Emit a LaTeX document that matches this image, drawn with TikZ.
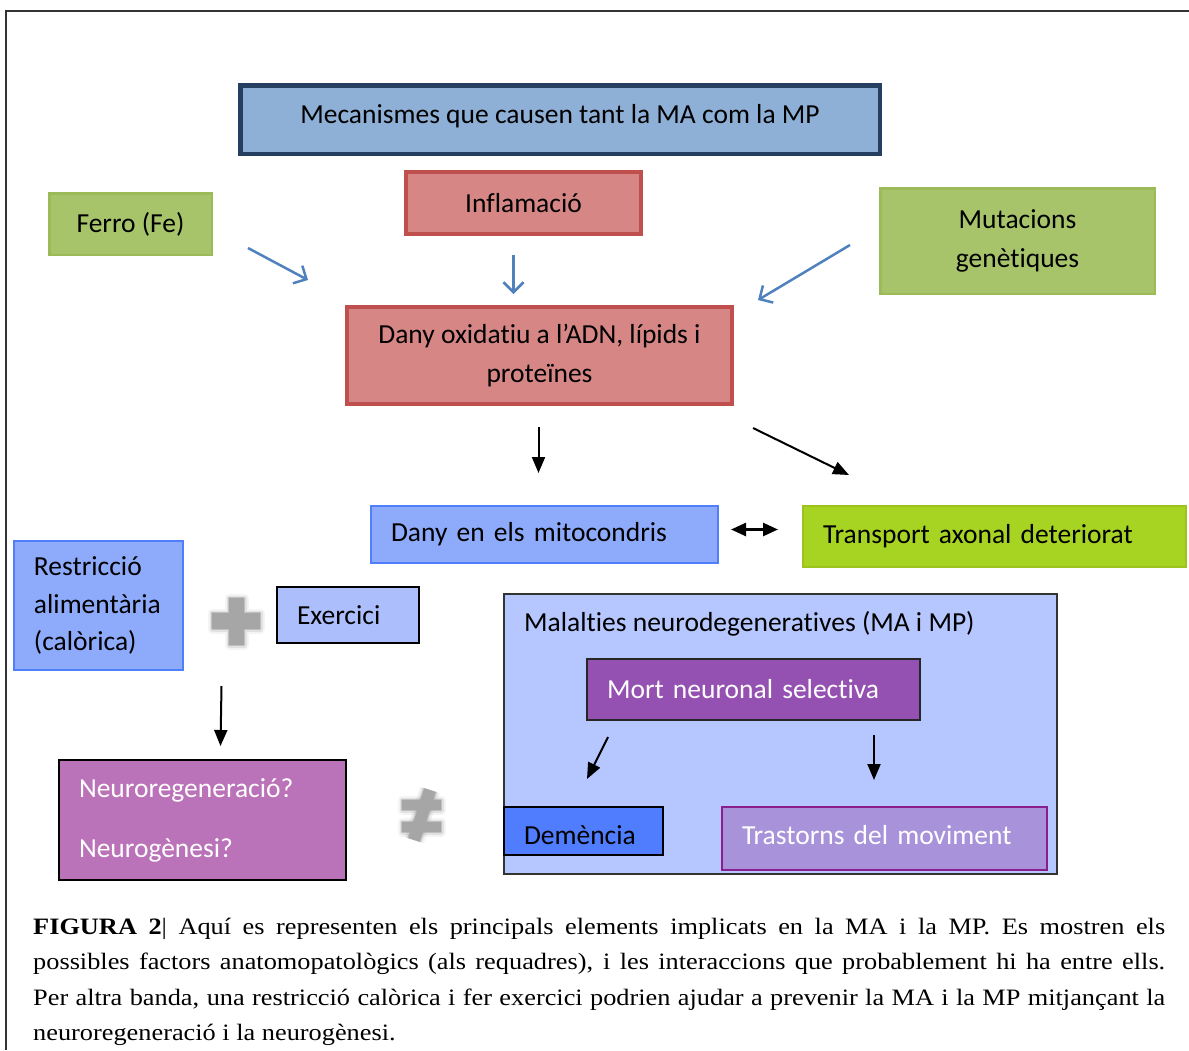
\documentclass[tikz,border=0pt]{standalone}
\usepackage{fontspec}
\setmainfont[Ligatures={NoCommon}]{Carlito}
\newfontfamily\captionfont[FakeStretch=1.12]{Liberation Serif}
\usetikzlibrary{arrows.meta}

\definecolor{mecfill}{HTML}{8EB0D7}
\definecolor{mecline}{HTML}{243F60}
\definecolor{redfill}{HTML}{D68785}
\definecolor{redline}{HTML}{C0504D}
\definecolor{greenfill}{HTML}{A7C46B}
\definecolor{greenline}{HTML}{9BBB59}
\definecolor{mitofill}{HTML}{8EAAFB}
\definecolor{mitoline}{HTML}{4F7FFA}
\definecolor{axonfill}{HTML}{A7D322}
\definecolor{axonline}{HTML}{9CC31E}
\definecolor{exerfill}{HTML}{ACBFFC}
\definecolor{neurofill}{HTML}{BA72B8}
\definecolor{malfill}{HTML}{B5C7FE}
\definecolor{mortfill}{HTML}{9551B2}
\definecolor{demfill}{HTML}{4F7DFE}
\definecolor{trasfill}{HTML}{A893DA}
\definecolor{trasline}{HTML}{8B1E8E}
\definecolor{arrowblue}{HTML}{4F81BD}
\definecolor{symgray}{HTML}{A6A6A6}

\begin{document}
\begin{tikzpicture}[
        x=1pt, y=-1pt,
        base/.style={rectangle, inner sep=0pt, font=\fontsize{27.5}{39}\selectfont},
        mecbox/.style={base, draw=mecline, line width=4.5pt, fill=mecfill, align=center},
        redbox/.style={base, draw=redline, line width=4pt, fill=redfill, align=center},
        greenbox/.style={base, draw=greenline, line width=2.5pt, fill=greenfill, align=center},
        leftbox/.style={base, line width=2pt, align=left, inner xsep=20pt},
        bluearrow/.style={-{Straight Barb[length=10pt,width=20pt]}, draw=arrowblue, line width=2.5pt},
        arrow/.style={-{Triangle[length=16pt,width=13pt]}, line width=2pt},
        doublearrow/.style={{Triangle[length=15pt,width=13pt]}-{Triangle[length=15pt,width=13pt]}, line width=2.5pt}
    ]
    \useasboundingbox (0,0) rectangle (1189,1050);
    \draw[line width=1.5pt, black!80] (6,1050) -- (6,11) -- (1189,11);

    % top: mechanisms and causes
    \node (mec) [mecbox, minimum width=639.5pt, minimum height=68.5pt, text depth=11pt] at (560,119.5) {Mecanismes que causen tant la MA com la MP};
    \node (inflamacio) [redbox, minimum width=235pt, minimum height=62pt] at (523.5,203) {Inflamació};
    \node (ferro) [greenbox, minimum width=162.5pt, minimum height=61.5pt] at (130.5,224) {Ferro (Fe)};
    \node (mutacions) [greenbox, minimum width=274.5pt, minimum height=105.5pt] at (1017.5,241) {Mutacions\\genètiques};
    \node (danyox) [redbox, minimum width=385pt, minimum height=97pt] at (539.5,355.5) {Dany oxidatiu a l’ADN, lípids i\\proteïnes};

    \node (mito) [leftbox, draw=mitoline, fill=mitofill, text width=307pt, minimum height=57pt] at (544.5,534.5) {Dany en els mitocondris};
    \node (transport) [leftbox, draw=axonline, fill=axonfill, text width=343pt, minimum height=61pt] at (994.5,536.5) {Transport axonal deteriorat};

    % left: prevention
    \node (restriccio) [leftbox, draw=mitoline, fill=mitofill, text width=129pt, minimum height=129pt, font=\fontsize{27.5}{37.5}\selectfont] at (98.5,605.5) {Restricció\\alimentària\\(calòrica)};
    \node (exercici) [leftbox, draw=black, fill=exerfill, text width=102pt, minimum height=56pt] at (348,615) {Exercici};
    \node (neuro) [leftbox, draw=black, fill=neurofill, text=white, text width=247pt, minimum height=120pt] at (202.5,820) {Neuroregeneració?\\[21pt]Neurogènesi?};

    % right: diseases
    \node (malalties) [base, draw=black!80, line width=2pt, fill=malfill, minimum width=553pt, minimum height=280pt] at (780.5,734) {};
    \node (maltitle) [base, anchor=west] at ([xshift=21pt,yshift=-31pt]malalties.north west) {Malalties neurodegeneratives (MA i MP)};
    \node (mort) [leftbox, draw=black!85, fill=mortfill, text=white, text width=293pt, minimum height=61pt] at (753.5,689.5) {Mort neuronal selectiva};
    \node (demencia) [leftbox, draw=black, fill=demfill, text width=119pt, minimum height=48pt, text height=26pt, text depth=0pt] at (583.5,831) {Demència};
    \node (trastorns) [leftbox, draw=trasline, fill=trasfill, text=white, text width=285pt, minimum height=63pt, text depth=8pt] at (884.5,838.5) {Trastorns del moviment};

    % blurred plus and not-equal signs
    \foreach \w/\o in {9/0.12, 5/0.25, 2/0.5} {
        \draw[symgray, line width=\w pt, opacity=\o, line join=round]
            (229,598) -- (244,598) -- (244,613) -- (260,613) -- (260,629) -- (244,629) -- (244,645) -- (229,645)
            -- (229,629) -- (212,629) -- (212,613) -- (229,613) -- cycle;
        \draw[symgray, line width=\w pt, opacity=\o, line join=round] (402,800) rectangle (441,810) (402,822) rectangle (441,832);
        \draw[symgray, line width=12pt+\w pt, opacity=\o] (430,790) -- (414,840);
    }
    \fill[symgray] (229,598) -- (244,598) -- (244,613) -- (260,613) -- (260,629) -- (244,629) -- (244,645) -- (229,645)
        -- (229,629) -- (212,629) -- (212,613) -- (229,613) -- cycle;
    \fill[symgray] (402,800) rectangle (441,810) (402,822) rectangle (441,832);
    \draw[symgray, line width=12pt] (430,790) -- (414,840);

    % connectors
    \draw [bluearrow] ([xshift=35pt,yshift=8pt]ferro.south east) -- ([xshift=-37pt,yshift=25pt]danyox.north west);
    \draw [bluearrow] ([xshift=-10pt,yshift=-19pt]inflamacio.south) -- ([xshift=-26pt,yshift=11pt]danyox.north);
    \draw [bluearrow] ([xshift=-29pt,yshift=-4pt]mutacions.west) -- ([xshift=24pt,yshift=5pt]danyox.north east);
    \draw [arrow] ([xshift=-1pt,yshift=-21pt]danyox.south) -- ([xshift=-6pt,yshift=32pt]mito.north);
    \draw [arrow] ([xshift=19pt,yshift=-22pt]danyox.south east) -- ([xshift=47pt,yshift=30pt]transport.north west);
    \draw [doublearrow] ([xshift=12pt,yshift=5pt]mito.east) -- ([xshift=-24pt,yshift=7pt]transport.west);
    \draw [arrow] ([xshift=123pt,yshift=-15pt]restriccio.south) -- ([xshift=18pt,yshift=13pt]neuro.north);
    \draw [arrow] ([xshift=22pt,yshift=-16pt]mort.south west) -- ([xshift=3.5pt,yshift=27pt]demencia.north);
    \draw [arrow] ([xshift=-47pt,yshift=-14pt]mort.south east) -- ([xshift=-10.5pt,yshift=26pt]trastorns.north);

    % caption
    \node (caption) [anchor=north west, text width=1132pt, align=justify, inner sep=0pt,
        font=\captionfont\fontsize{23.5}{35.3}\selectfont] at (33,918)
        {\textbf{FIGURA 2}| Aquí es representen els principals elements implicats en la MA i la MP. Es mostren els\linebreak
        possibles factors anatomopatològics (als requadres), i les interaccions que probablement hi ha entre ells.\linebreak
        Per altra banda, una restricció calòrica i fer exercici podrien ajudar a prevenir la MA i la MP mitjançant la\linebreak
        neuroregeneració i la neurogènesi.};
\end{tikzpicture}
\end{document}
